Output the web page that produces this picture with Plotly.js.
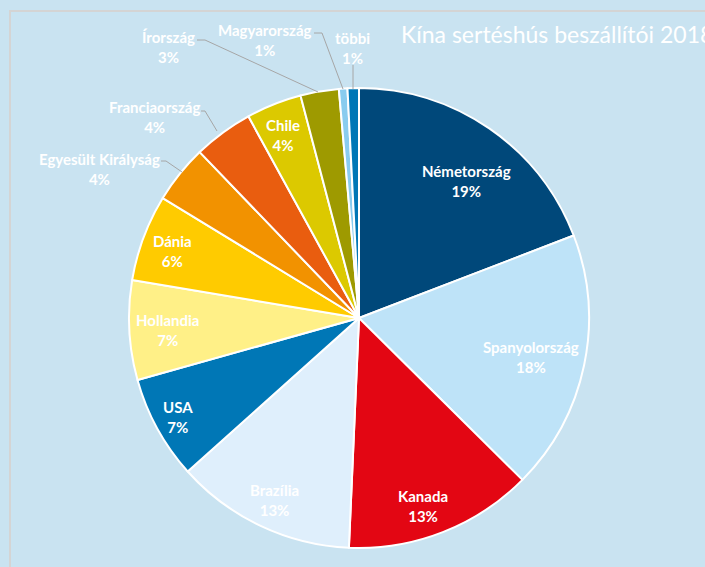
<!DOCTYPE html>
<html>
<head>
<meta charset="utf-8">
<script src="https://cdn.plot.ly/plotly-3.0.1.min.js"></script>
<style>html,body{margin:0;padding:0;background:#c9e3f1;}#chart{width:705px;height:567px;}</style>
</head>
<body>
<div id="chart"></div>
<script>
// Data
var countries = ["Németország","Spanyolország","Kanada","Brazília","USA","Hollandia","Dánia","Egyesült Királyság","Franciaország","Chile","Írország","Magyarország","többi"];
var shares = [19.2, 18.3, 13.3, 12.7, 7.3, 7.0, 6.1, 4.1, 4.2, 3.9, 2.7, 0.6, 0.8];
var sliceColors = ["#00487a","#bee3f8","#e30613","#dfeffc","#0077b6","#fff087","#ffcb00","#f29200","#e95d0f","#dcc900","#9e9a00","#89ccef","#0077b6"];
var chartTitle = "Kína sertéshús beszállítói 2018";

// Layout helpers (pixel -> paper)
var W = 705, H = 567;
function px(x){ return x / W; }
function py(y){ return 1 - y / H; }

// label block centres (pixels), per category
var labelPos = [[467,181],[531,357],[423,506],[274,500],[178,417],[167,330],[172,251],[99,169],[154,117],[283,135],[168,47],[265,40],[353,48]];
// leader lines (pixels) for outside labels
var leaders = {
  7: [[161,161],[166,161],[182,172]],
  8: [[201,111],[205,111],[217,131]],
  10: [[197,40],[205,40],[318,92]],
  11: [[314,33],[322,33],[343,89]],
  12: [[353,65],[353,89]]
};

var total = shares.reduce(function(a,b){return a+b;},0);
var annotations = countries.map(function(c,i){
  return {
    text: c + "<br>" + Math.round(shares[i]/total*100) + "%",
    x: px(labelPos[i][0]), y: py(labelPos[i][1]),
    xref: "paper", yref: "paper", xanchor: "center", yanchor: "middle",
    showarrow: false, align: "center",
    font: {family: "Lato, 'Open Sans', sans-serif", size: 15, color: "#ffffff", weight: "bold"}
  };
});
var shapes = [{
  type: "rect", xref: "paper", yref: "paper",
  x0: px(10), x1: px(720), y0: py(11), y1: py(590),
  line: {color: "#d4d4d4", width: 2}, fillcolor: "rgba(0,0,0,0)"
}];
Object.keys(leaders).forEach(function(k){
  var pts = leaders[k];
  var d = pts.map(function(p,j){ return (j===0?"M ":"L ") + px(p[0]) + " " + py(p[1]); }).join(" ");
  shapes.push({type:"path", xref:"paper", yref:"paper", path:d, line:{color:"#a6a6a6", width:1}});
});

var trace = {
  type: "pie",
  labels: countries,
  values: shares,
  sort: false,
  direction: "clockwise",
  rotation: 0,
  textinfo: "none",
  hoverinfo: "none",
  marker: {colors: sliceColors, line: {color: "#ffffff", width: 2}},
  domain: {x: [px(129), px(589)], y: [py(548), py(88)]},
  showlegend: false
};

var layout = {
  width: W, height: H,
  margin: {l:0, r:0, t:0, b:0},
  paper_bgcolor: "#c9e3f1",
  plot_bgcolor: "#c9e3f1",
  title: {text: chartTitle, x: px(401), xanchor: "left", xref: "paper", y: py(35), yref: "paper", yanchor: "middle",
          font: {family: "Lato, 'Open Sans', sans-serif", size: 23, color: "#ffffff"}},
  annotations: annotations,
  shapes: shapes
};

Plotly.newPlot("chart", [trace], layout, {displayModeBar: false, staticPlot: true});
</script>
</body>
</html>
